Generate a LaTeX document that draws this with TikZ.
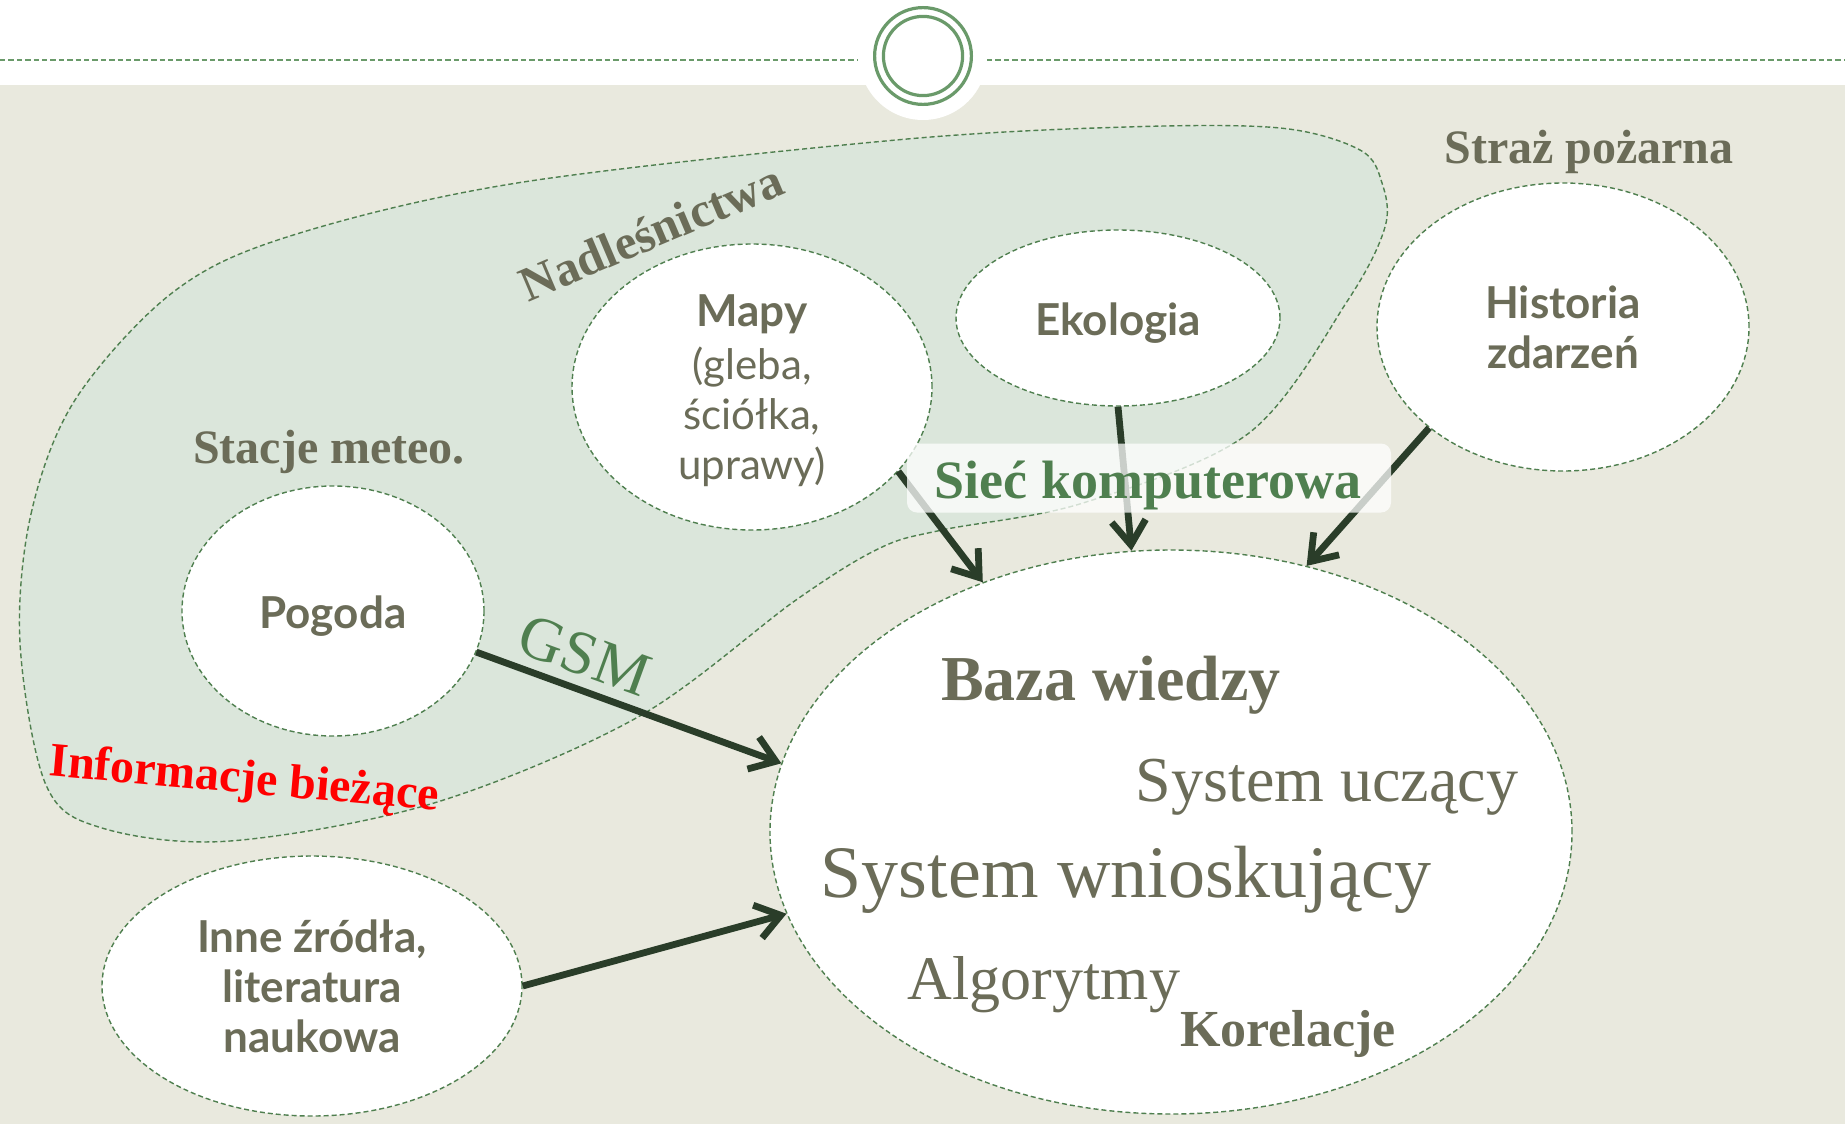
\documentclass[tikz,border=0pt]{standalone}
\usepackage{fontspec}
\setmainfont{Liberation Serif}
\newfontfamily\gillfont{Lato}
\usetikzlibrary{shapes.geometric,arrows.meta}

\definecolor{bgbeige}{HTML}{E9E9DE}
\definecolor{blobgreen}{HTML}{DBE6DB}
\definecolor{txtolive}{HTML}{6B6C58}
\definecolor{dashgreen}{HTML}{4F7F4F}
\definecolor{ringgreen}{HTML}{6A9A6A}
\definecolor{arrowdark}{HTML}{2A3D29}

\tikzset{
  bubble/.style={ellipse, draw=dashgreen, fill=white, line width=0.7pt, dash pattern=on 2.5pt off 1.5pt,
    inner sep=0pt, text=txtolive, align=center, font=\gillfont\bfseries\fontsize{22}{25}\selectfont},
  flow/.style={draw=arrowdark, line width=3.4pt, -{Straight Barb[length=12pt,width=17pt]}},
  serlabel/.style={text=txtolive, inner sep=0pt, font=\bfseries\fontsize{24}{28}\selectfont},
  bazatext/.style={text=txtolive, inner sep=0pt, anchor=base},
}
\newcommand{\mapyline}{\mdseries\fontsize{21}{25}\selectfont}

\begin{document}
\begin{tikzpicture}[x=0.5pt,y=-0.5pt]
\useasboundingbox (0,0) rectangle (1845,1124);

%Background
\fill[white] (0,0) rectangle (1845,85);
\fill[bgbeige] (0,85) rectangle (1845,1124);
\fill[white] (923,56) circle [radius=32pt];
\draw[ringgreen, line width=1.6pt] (923,56) circle [radius=24.2pt];
\draw[ringgreen, line width=1.6pt] (923,56) circle [radius=19.8pt];
\draw[ringgreen, line width=1pt, dash pattern=on 2.7pt off 1.5pt] (0,60) -- (857,60);
\draw[ringgreen, line width=1pt, dash pattern=on 2.7pt off 1.5pt] (987,60) -- (1845,60);

%Shape: Blob (Nadlesnictwa)
\draw[dashgreen, fill=blobgreen, line width=0.7pt, dash pattern=on 2.5pt off 1.5pt]
  plot [smooth cycle, tension=0.55] coordinates {
    (20,643) (31,514) (75,400) (172,293) (287,237) (517,183) (896,140) (1126,127)
    (1280,128) (1360,150) (1382,183) (1385,227) (1348,300) (1249,433) (1083,503)
    (942,530) (880,548) (796,600) (638,717) (434,803) (230,841) (102,828) (46,785)};

%Shape: Ellipses
\node[bubble, minimum width=180pt, minimum height=143pt, text depth=0pt] (mapy) at (752,387)
  {Mapy\\[1.5pt]\mapyline (gleba,\\\mapyline ściółka,\\\mapyline uprawy)};
\node[bubble, minimum width=162pt, minimum height=88pt, text height=21pt] (ekologia) at (1118,318) {Ekologia};
\node[bubble, minimum width=186pt, minimum height=144pt] (historia) at (1563,327) {Historia\\zdarzeń};
\node[bubble, minimum width=151pt, minimum height=125pt, text height=21pt] (pogoda) at (333,611) {Pogoda};
\node[bubble, minimum width=210pt, minimum height=130pt] (inne) at (312,986) {Inne źródła,\\literatura\\naukowa};
\node[bubble, minimum width=401pt, minimum height=282pt] (baza) at (1171,832) {};

%Straight Lines
\draw[flow] (mapy.-30) -- (baza.127);
\draw[flow] (ekologia.-90) -- (baza.98);
\draw[flow] (historia.-143) -- (baza.63);
\draw[flow] (pogoda.-16) -- (baza.170);
\draw[flow] (inne.0) -- (baza.192);

%Shape: Box
\node[fill=white, fill opacity=0.75, rounded corners=5pt, minimum width=242pt, minimum height=34.5pt,
  inner sep=0pt] (siecbox) at (1149,478) {};

% Text Node
\node[serlabel, anchor=base] (stacje) at (329,463) {Stacje meteo.};
% Text Node
\node[serlabel, anchor=base] (straz) at (1589,163) {Straż pożarna};
% Text Node
\node[serlabel, rotate=23, font=\bfseries\fontsize{24.5}{28}\selectfont] (nadl) at (651,232) {Nadleśnictwa};
% Text Node
\node[serlabel, anchor=base, rotate=-5, text=red, font=\bfseries\fontsize{24}{28}\selectfont] (info) at (243,793) {Informacje bieżące};
% Text Node
\node[serlabel, anchor=base, rotate=-20, text=dashgreen, font=\fontsize{31}{34}\selectfont] (gsm) at (578,674) {GSM};
% Text Node
\node[serlabel, anchor=base, text=dashgreen, font=\bfseries\fontsize{27}{30}\selectfont] (siec) at (1148,498) {Sieć komputerowa};

% Text Node
\node[bazatext, font=\bfseries\fontsize{32}{36}\selectfont] (wiedza) at (1111,700) {Baza wiedzy};
% Text Node
\node[bazatext, font=\fontsize{32}{36}\selectfont] (uczacy) at (1327,801) {System uczący};
% Text Node
\node[bazatext, font=\fontsize{37}{40}\selectfont] (wniosk) at (1126,897) {System wnioskujący};
% Text Node
\node[bazatext, font=\fontsize{31}{34}\selectfont] (algo) at (1044,999) {Algorytmy};
% Text Node
\node[bazatext, font=\bfseries\fontsize{26}{30}\selectfont] (korel) at (1288,1046) {Korelacje};
\end{tikzpicture}
\end{document}
